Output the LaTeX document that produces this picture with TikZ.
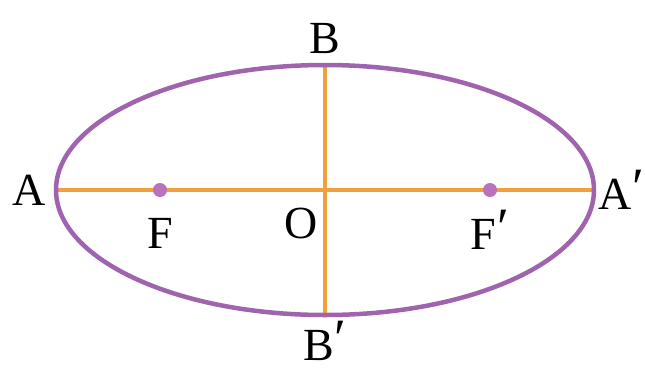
\documentclass[tikz,border=0pt]{standalone}
\usepackage{fontspec}
\setmainfont{Liberation Serif}
\usetikzlibrary{positioning}
\definecolor{EllPurple}{RGB}{160,100,175}
\definecolor{AxisOrange}{RGB}{240,160,60}
\definecolor{FocusPurple}{RGB}{185,115,190}
\newcommand{\pr}{\kern1pt\raisebox{4pt}{\fontsize{54}{54}\selectfont ′}}

\begin{document}
\begin{tikzpicture}[x=1pt, y=1pt,
		lbl/.style={font=\fontsize{46}{46}\selectfont, inner sep=0pt},
		axis/.style={line width=4.5pt, AxisOrange},
		focus/.style={circle, fill=FocusPurple, inner sep=0pt, minimum size=14pt}]
			\useasboundingbox (-325,-183) rectangle (320,190);
			\coordinate (O) at (0,0);
			\coordinate (A) at (-269,0);
			\coordinate (Ap) at (269,0);
			\coordinate (B) at (0,125);
			\coordinate (Bp) at (0,-125);
			\draw[axis] (A) -- (Ap);
			\draw[axis] (B) -- (Bp);
			\draw[line width=4.5pt, EllPurple] (O) ellipse [x radius=269pt, y radius=125pt];
			\node[focus] (F) at (-165,0) {};
			\node[focus] (Fp) at (165,0) {};
			% labels
			\node[lbl, left=10pt of A] (lA) {A};
			\node[lbl, right=4pt of Ap] (lAp) {A\pr};
			\node[lbl, above=11pt of B] (lB) {B};
			\node[lbl, below=6pt of Bp] (lBp) {B\pr};
			\node[lbl, below=21pt of F] (lF) {F};
			\node[lbl, below=13pt of Fp] (lFp) {F\pr};
			\node[lbl, below left=18pt and 7pt of O] (lO) {O};
		\end{tikzpicture}
\end{document}
